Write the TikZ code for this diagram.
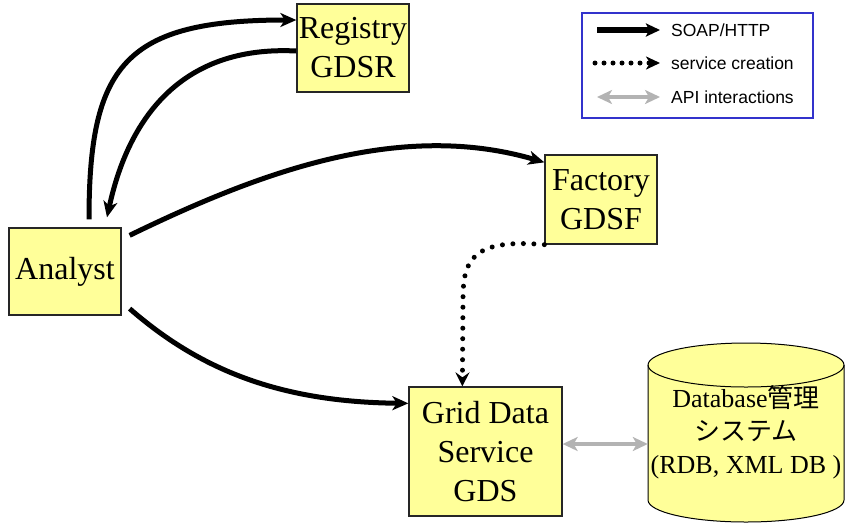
\documentclass[tikz,border=0pt]{standalone}
\usepackage{fontspec}
\setmainfont{Liberation Serif}
\setsansfont{Liberation Sans}
\newfontfamily\jpfont{Noto Sans CJK JP}
\usetikzlibrary{arrows.meta,calc}

\definecolor{boxyellow}{HTML}{FFFF99}
\definecolor{legendblue}{HTML}{3333CC}
\definecolor{apigray}{HTML}{B3B3B3}

\tikzset{
  compbox/.style={draw=black!85, line width=1.3pt, fill=boxyellow, align=center,
    inner sep=0pt, font=\fontsize{32}{39}\selectfont},
  soap/.style={line width=5pt, -{Stealth[length=16pt,width=14pt,inset=4.5pt]}},
  creation/.style={line width=5pt, line cap=round, dash pattern=on 0pt off 10.5pt,
    -{Stealth[length=14pt,width=14pt,inset=5pt]}},
  api/.style={apigray, line width=4pt,
    {Stealth[length=15pt,width=14pt,inset=4pt]}-{Stealth[length=15pt,width=14pt,inset=4pt]}},
  legendtext/.style={anchor=west, inner sep=0pt, font=\sffamily\fontsize{17.5}{20}\selectfont},
}

\begin{document}
\begin{tikzpicture}[x=1pt, y=-1pt]
  \useasboundingbox (0,0) rectangle (845,523);

  % components
  \node[compbox, minimum width=112pt, minimum height=88pt] (registry) at (353,48) {Registry\\GDSR};
  \node[compbox, minimum width=112pt, minimum height=87pt] (analyst) at (65,271.5) {Analyst};
  \node[compbox, minimum width=112pt, minimum height=89pt] (factory) at (601,199.5) {Factory\\GDSF};
  \node[compbox, minimum width=153pt, minimum height=129pt] (gds) at (485.5,451.5) {Grid Data\\Service\\GDS};

  % database cylinder
  \path[draw=black, line width=1pt, fill=boxyellow]
    (648,365) -- (648,500)
    arc[start angle=180, end angle=360, x radius=98pt, y radius=22pt]
    -- (844,365)
    arc[start angle=0, end angle=180, x radius=98pt, y radius=22pt] -- cycle;
  \draw[black, line width=1pt] (648,365)
    arc[start angle=180, end angle=360, x radius=98pt, y radius=22pt];
  \node[minimum width=196pt, minimum height=179pt, inner sep=0pt, align=center,
        font=\fontsize{26}{33}\selectfont] (db) at (746,432.5)
    {Database{\jpfont 管理}\\{\jpfont システム}\\(RDB, XML DB )};

  % SOAP/HTTP calls
  \draw[soap] ([xshift=24pt,yshift=8pt]analyst.north)
    .. controls (89,65) and (125,20) .. ([yshift=28pt]registry.west);
  \draw[soap] ([yshift=-3pt]registry.west)
    .. controls (180,45) and (128,120) .. ([xshift=42pt,yshift=10pt]analyst.north);
  \draw[soap] ([xshift=8pt,yshift=-8pt]analyst.north east)
    .. controls (260,172) and (400,120) .. ([yshift=-8pt]factory.north west);
  \draw[soap] ([xshift=8pt,yshift=7pt]analyst.south east)
    .. controls (200,370) and (280,402) .. ([yshift=-17pt]gds.north west);

  % service creation
  \draw[creation] (factory.south west)
    .. controls (470,238) and (463,262) .. (463,300) -- ([xshift=54pt]gds.north west);

  % API interactions
  \draw[api] ([yshift=7.5pt]gds.east) -- ([yshift=-11.5pt]db.west);

  % legend
  \node[draw=legendblue, line width=2pt, minimum width=231pt, minimum height=105pt,
        inner sep=0pt] (legend) at (697.5,65.5) {};
  \coordinate (l1a) at (597,30);  \coordinate (l1b) at (660,30);
  \coordinate (l2a) at (595,63);  \coordinate (l2b) at (660,63);
  \coordinate (l3a) at (597,97);  \coordinate (l3b) at (660,97);
  \draw[line width=5.5pt, -{Stealth[length=14pt,width=13pt,inset=3pt]}] (l1a) -- (l1b);
  \draw[line width=5pt, line cap=round, dash pattern=on 0pt off 9pt,
        -{Stealth[length=14pt,width=13pt,inset=4pt]}] (l2a) -- (l2b);
  \draw[api] (l3a) -- (l3b);
  \node[legendtext] (t1) at (671,30) {SOAP/HTTP};
  \node[legendtext] (t2) at (671,63) {service creation};
  \node[legendtext] (t3) at (671,97) {API interactions};
\end{tikzpicture}
\end{document}
